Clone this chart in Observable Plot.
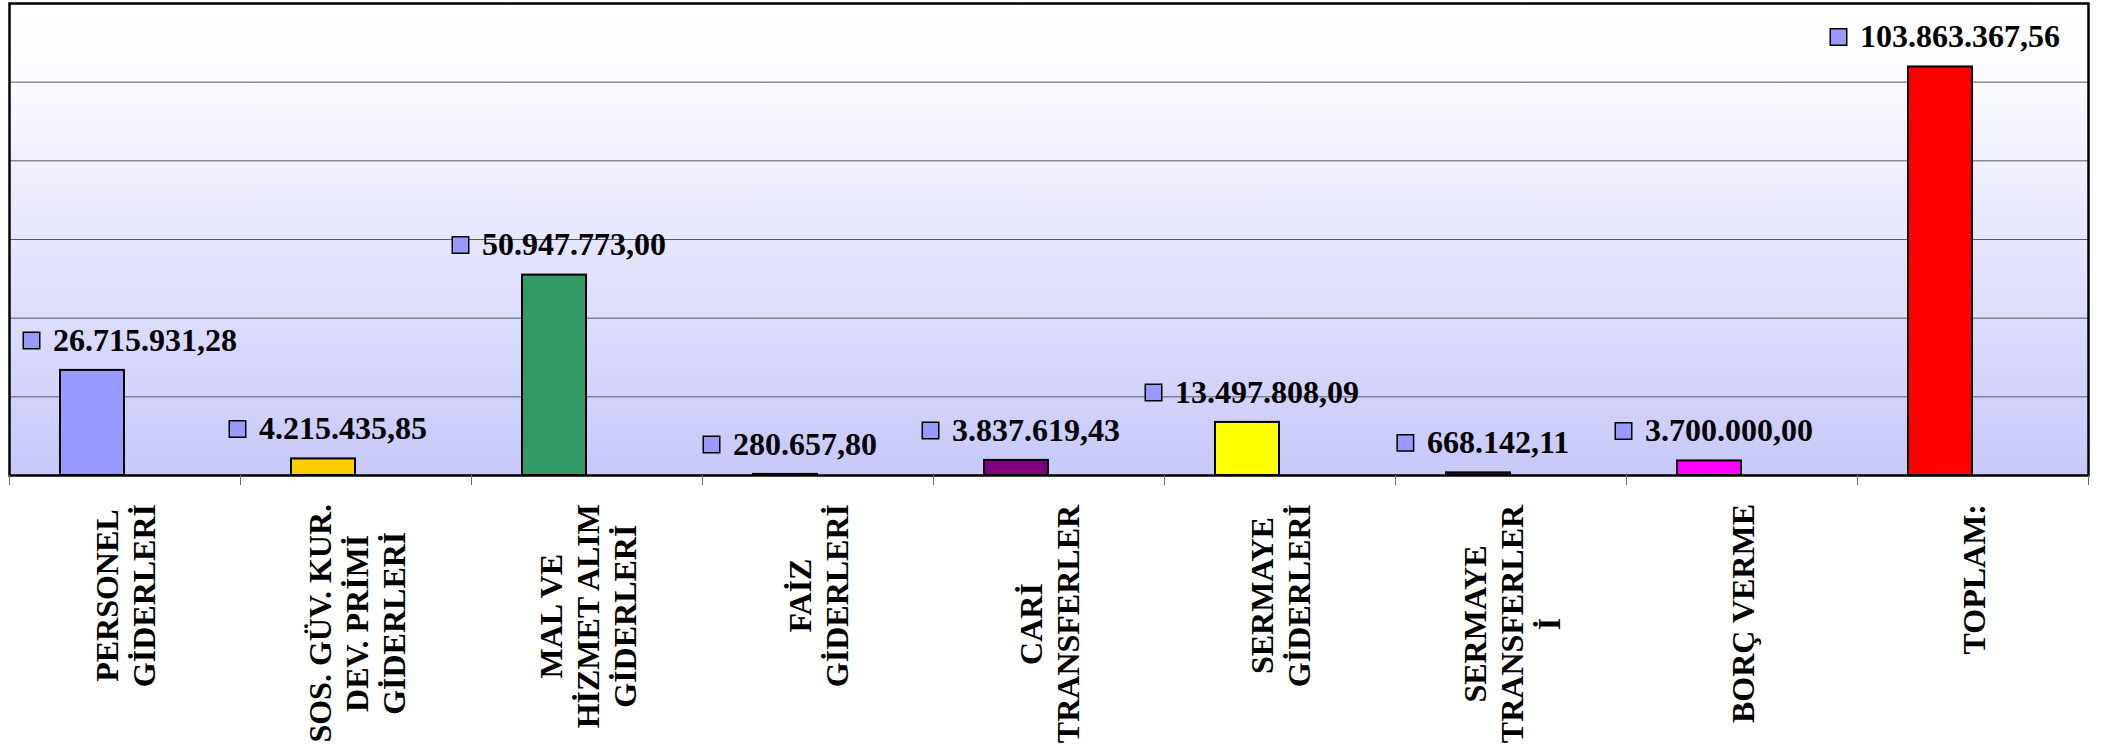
<!DOCTYPE html>
<html>
<head>
<meta charset="utf-8">
<script src="https://cdn.jsdelivr.net/npm/d3@7"></script>
<script src="https://cdn.jsdelivr.net/npm/@observablehq/plot@0.6"></script>
<style>
  html, body { margin: 0; padding: 0; background: #ffffff; }
  #chart svg { display: block; background: #ffffff; overflow: visible; }
</style>
</head>
<body>
<div id="chart"></div>
<script>
// ---- data ----
const categories = [
  "PERSONEL\nGİDERLERİ",
  "SOS. GÜV. KUR.\nDEV. PRİMİ\nGİDERLERİ",
  "MAL VE\nHİZMET ALIM\nGİDERLERİ",
  "FAİZ\nGİDERLERİ",
  "CARİ\nTRANSFERLER",
  "SERMAYE\nGİDERLERİ",
  "SERMAYE\nTRANSFERLER\nİ",
  "BORÇ VERME",
  "TOPLAM:"
];
const values = [
  26715931.28,
  4215435.85,
  50947773.00,
  280657.80,
  3837619.43,
  13497808.09,
  668142.11,
  3700000.00,
  103863367.56
];
const yMax = 120000000;
const yTicks = [20000000, 40000000, 60000000, 80000000, 100000000];

// ---- build ----
const data = categories.map((c, i) => ({category: c, value: values[i]}));
const trLocale = d3.formatLocale({decimal: ",", thousands: ".", grouping: [3], currency: ["", ""]});
const fmt = trLocale.format(",.2f");
const FONT = "'Liberation Serif', 'Times New Roman', Times, serif";

const W = 2107, H = 748;
const mL = 9, mR = 19, mT = 3, mB = 273;
const band = (W - mL - mR) / categories.length;

const svg = Plot.plot({
  width: W,
  height: H,
  marginLeft: mL,
  marginRight: mR,
  marginTop: mT,
  marginBottom: mB,
  style: {fontFamily: FONT, background: "#ffffff", overflow: "visible"},
  x: {type: "band", domain: categories, padding: 0, axis: null},
  y: {domain: [0, yMax], axis: null},
  color: {
    domain: categories,
    range: ["#9999FF", "#FFCC00", "#339966", "#333399", "#800080", "#FFFF00", "#003366", "#FF00FF", "#FF0000"]
  },
  marks: [
    Plot.frame({fill: "#e6e6fb", stroke: null}),
    Plot.gridY(yTicks, {stroke: "#5a5a5a", strokeOpacity: 1, strokeWidth: 1}),
    Plot.barY(data, {
      x: "category", y: "value", fill: "category",
      stroke: "#000000", strokeWidth: 2,
      insetLeft: 51, insetRight: band - 51 - 64
    }),
    Plot.frame({stroke: "#000000", strokeWidth: 2.5}),
    // tick marks at category boundaries
    Plot.axisX({tickSize: 10, fill: "none", stroke: "#6e6e6e", strokeWidth: 1, dx: -band / 2, label: null}),
    Plot.axisX([categories[categories.length - 1]], {tickSize: 10, fill: "none", stroke: "#6e6e6e", strokeWidth: 1, dx: band / 2, label: null}),
    // category labels
    Plot.axisX({
      tickSize: 0, tickPadding: 30, tickRotate: -90,
      textAnchor: "middle", lineAnchor: "middle", lineHeight: 1.15,
      fontSize: 32, fontWeight: "bold", fontFamily: FONT, fill: "#000000", label: null
    }),
    // value label keys
    Plot.dot(data, {
      x: "category", y: "value", symbol: "square", r: 9.3,
      fill: "#9999FF", stroke: "#000000", strokeWidth: 1.5,
      dy: -30
    }),
    // value labels
    Plot.text(data, {
      x: "category", y: "value", text: d => fmt(d.value),
      dx: -13, dy: -30, textAnchor: "middle", lineAnchor: "middle",
      fontSize: 32, fontWeight: "bold", fontFamily: FONT, fill: "#000000"
    })
  ]
});

document.getElementById("chart").appendChild(svg);

// gradient background for the plot area
const ns = "http://www.w3.org/2000/svg";
const defs = document.createElementNS(ns, "defs");
defs.innerHTML = '<linearGradient id="bgGrad" x1="0" y1="0" x2="0" y2="1">' +
  '<stop offset="0" stop-color="#FFFFFF"/><stop offset="0.12" stop-color="#FDFDFF"/>' +
  '<stop offset="1" stop-color="#C8C8FA"/></linearGradient>';
svg.insertBefore(defs, svg.firstChild);
const frames = svg.querySelectorAll('[aria-label="frame"]');
if (frames.length) {
  const f = frames[0];
  (f.tagName.toLowerCase() === "rect" ? [f] : f.querySelectorAll("rect")).forEach(r => r.setAttribute("fill", "url(#bgGrad)"));
}

const svgRect = svg.getBoundingClientRect();

// category labels: top end of the longest line aligned under the axis
svg.querySelectorAll('g[aria-label="x-axis tick label"] text').forEach(t => {
  if (!t.textContent.trim()) return;
  const r = t.getBoundingClientRect();
  const top = r.top - svgRect.top;
  const delta = 504 - top;
  t.setAttribute("transform", (t.getAttribute("transform") || "") + ` translate(${-delta},0)`);
});

// value labels: put key square left of text, keep label inside plot
const texts = svg.querySelectorAll('g[aria-label="text"] text');
const keys = svg.querySelectorAll('g[aria-label="dot"] path');
texts.forEach((t, i) => {
  const r = t.getBoundingClientRect();
  const left = r.left - svgRect.left;
  let shift = 0;
  if (left - 30 < 23) shift = 23 - (left - 30);
  if (shift) t.setAttribute("transform", (t.getAttribute("transform") || "") + ` translate(${shift},0)`);
  const k = keys[i];
  if (!k) return;
  const kr = k.getBoundingClientRect();
  const kcx = (kr.left + kr.right) / 2 - svgRect.left;
  const desired = left + shift - 13 - 8.5;
  k.setAttribute("transform", (k.getAttribute("transform") || "") + ` translate(${desired - kcx},0)`);
});
</script>
</body>
</html>
